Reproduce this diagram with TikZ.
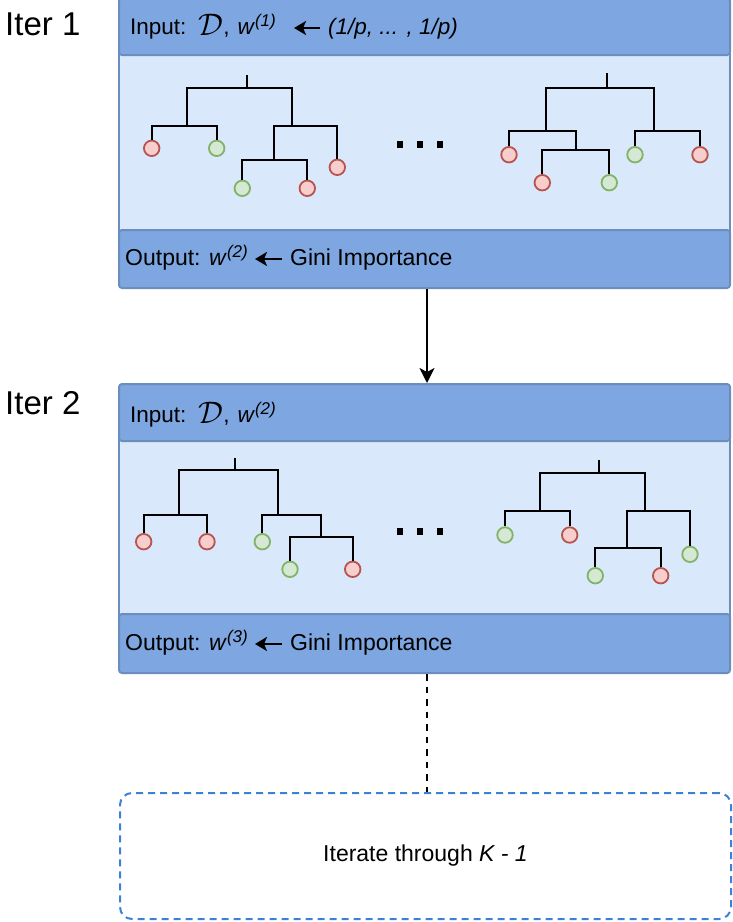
\documentclass[tikz,border=0pt]{standalone}
\usepackage{fontspec}
\usepackage{graphicx}
\setmainfont{Liberation Sans}
\usetikzlibrary{arrows.meta}

\definecolor{hdrfill}{HTML}{7EA6E0}
\definecolor{hdrline}{HTML}{6C8EBF}
\definecolor{bodyfill}{HTML}{DAE8FC}
\definecolor{leafred}{HTML}{F8CECC}
\definecolor{leafredline}{HTML}{B85450}
\definecolor{leafgreen}{HTML}{D5E8D4}
\definecolor{leafgreenline}{HTML}{82B366}
\definecolor{loopline}{HTML}{3B82D6}

\tikzset{
  band/.style={draw=hdrline, fill=hdrfill, line width=2pt, rounded corners=3pt,
    minimum width=611pt, inner sep=0pt, anchor=north west},
  body/.style={draw=hdrline, fill=bodyfill, line width=2pt,
    minimum width=611pt, inner sep=0pt, anchor=north west},
  branch/.style={line width=2.3pt, black},
  leaf/.style={circle, line width=1.8pt, minimum size=15.5pt, inner sep=0pt},
  rleaf/.style={leaf, draw=leafredline, fill=leafred},
  gleaf/.style={leaf, draw=leafgreenline, fill=leafgreen},
  lbl/.style={font=\fontsize{22.5}{26}\selectfont, inner sep=0pt,
    text height=17pt, text depth=5pt, anchor=west},
  outlbl/.style={lbl, font=\fontsize{23}{27}\selectfont},
  iterlbl/.style={font=\fontsize{33}{38}\selectfont, inner sep=0pt, anchor=base west},
  gapdot/.style={rectangle, fill=black, minimum size=6.5pt, inner sep=0pt},
  textarrow/.style={line width=2.4pt, -{Stealth[length=12pt,width=14pt,inset=3pt]},
    shorten <=8pt, shorten >=7pt},
}

% calligraphic data set symbol and iteration superscript
\newcommand{\bigD}{\raisebox{-1pt}{\scalebox{1.5}{$\mathcal{D}$}}}
\newcommand{\itsup}[1]{\raisebox{8pt}{\fontsize{17}{17}\selectfont\textit{(#1)}}}

\begin{document}
\begin{tikzpicture}[x=1pt, y=-1pt]
\useasboundingbox (0,0) rectangle (733,922);

% ---------- iteration 1 ----------
\node[iterlbl] (it1) at (5,35) {Iter 1};
\node[body, minimum height=178pt] (body1) at (118,52) {};
\node[band, minimum height=57pt] (in1) at (118,-3) {};
\node[band, minimum height=58pt] (out1) at (118,229) {};

\node[lbl] (in1a) at (130,28) {Input:\hspace{12pt}\bigD,\hspace{8pt}\textit{w}\itsup{1}};
\node[lbl] (in1b) at (328,28) {\textit{(1/p, ... , 1/p)}};
\draw[textarrow, shorten >=18pt] (in1b.west) -- (in1a.east);

\node[outlbl] (out1a) at (125,259) {Output: \textit{w}\itsup{2}};
\node[outlbl] (out1b) at (290,259) {Gini Importance};
\draw[textarrow] (out1b.west) -- (out1a.east);

% tree A
\coordinate (a0) at (246.7,87.7);
\coordinate (a1) at (186.7,126);
\coordinate (a2) at (291.7,126);
\coordinate (a3) at (274,160);
\node[rleaf] (aL1) at (151.7,148.3) {};
\node[gleaf] (aL2) at (216.7,148.3) {};
\node[gleaf] (aL3) at (242.3,188.3) {};
\node[rleaf] (aL4) at (307.3,188.3) {};
\node[rleaf] (aL5) at (337.3,167.3) {};
\draw[branch] (a0) -- ++(0,-12.5);
\draw[branch] (a1) |- (a0) -| (a2);
\draw[branch] (aL1.north) |- (a1) -| (aL2.north);
\draw[branch] (a3) |- (a2) -| (aL5.north);
\draw[branch] (aL3.north) |- (a3) -| (aL4.north);

% tree B
\coordinate (b0) at (607.3,87.7);
\coordinate (b1) at (546,130.7);
\coordinate (b2) at (654.3,130.7);
\coordinate (b3) at (576,150);
\node[rleaf] (bL1) at (509,154.7) {};
\node[rleaf] (bL2) at (542.3,182.7) {};
\node[gleaf] (bL3) at (609.3,182.7) {};
\node[gleaf] (bL4) at (635,154.7) {};
\node[rleaf] (bL5) at (700,154.7) {};
\draw[branch] (b0) -- ++(0,-14.4);
\draw[branch] (b1) |- (b0) -| (b2);
\draw[branch] (bL1.north) |- (b1) -| (b3);
\draw[branch] (bL2.north) |- (b3) -| (bL3.north);
\draw[branch] (bL4.north) |- (b2) -| (bL5.north);

\node[gapdot] (g1a) at (400,144.3) {};
\node[gapdot] (g1b) at (420,144.3) {};
\node[gapdot] (g1c) at (440,144.3) {};

% ---------- iteration 2 ----------
\node[iterlbl] (it2) at (5,414) {Iter 2};
\node[body, minimum height=176pt] (body2) at (118,438) {};
\node[band, minimum height=57pt] (in2) at (118,383) {};
\node[band, minimum height=59pt] (out2) at (118,613) {};

\node[lbl] (in2a) at (130,416) {Input:\hspace{12pt}\bigD,\hspace{8pt}\textit{w}\itsup{2}};

\node[outlbl] (out2a) at (125,644) {Output: \textit{w}\itsup{3}};
\node[outlbl] (out2b) at (290,644) {Gini Importance};
\draw[textarrow] (out2b.west) -- (out2a.east);

% tree C
\coordinate (c0) at (235,470);
\coordinate (c1) at (179.3,515.3);
\coordinate (c2) at (277.7,515.3);
\coordinate (c3) at (321,536.7);
\node[rleaf] (cL1) at (143.7,541.7) {};
\node[rleaf] (cL2) at (207,541.7) {};
\node[gleaf] (cL3) at (262.3,541.7) {};
\node[gleaf] (cL4) at (290,569.3) {};
\node[rleaf] (cL5) at (352.7,569.3) {};
\draw[branch] (c0) -- ++(0,-12.3);
\draw[branch] (c1) |- (c0) -| (c2);
\draw[branch] (cL1.north) |- (c1) -| (cL2.north);
\draw[branch] (cL3.north) |- (c2) -| (c3);
\draw[branch] (cL4.north) |- (c3) -| (cL5.north);

% tree D
\coordinate (d0) at (599.3,472.7);
\coordinate (d1) at (540.3,511);
\coordinate (d2) at (644.7,511);
\coordinate (d3) at (627,547.7);
\node[gleaf] (dL1) at (505,535) {};
\node[rleaf] (dL2) at (569.7,535) {};
\node[gleaf] (dL3) at (595.3,575.7) {};
\node[rleaf] (dL4) at (660.7,575.7) {};
\node[gleaf] (dL5) at (690,554.3) {};
\draw[branch] (d0) -- ++(0,-12.7);
\draw[branch] (d1) |- (d0) -| (d2);
\draw[branch] (dL1.north) |- (d1) -| (dL2.north);
\draw[branch] (d3) |- (d2) -| (dL5.north);
\draw[branch] (dL3.north) |- (d3) -| (dL4.north);

\node[gapdot] (g2a) at (400,531.5) {};
\node[gapdot] (g2b) at (420,531.5) {};
\node[gapdot] (g2c) at (440,531.5) {};

% ---------- remaining iterations ----------
\node[draw=loopline, dash pattern=on 7pt off 5pt, line width=2pt, rounded corners=12pt,
  minimum width=611pt, minimum height=126pt, inner sep=0pt, anchor=north west,
  font=\fontsize{23}{27}\selectfont] (loop) at (119,792) {Iterate through \textit{K - 1}};

% connectors between iterations
\draw[line width=2pt, -{Stealth[length=15pt,width=15pt,inset=4pt]}]
  ([xshift=2.5pt]out1.south) -- ([xshift=2.5pt]in2.north);
\draw[line width=2.2pt, dash pattern=on 6.5pt off 6pt]
  ([xshift=2.5pt]out2.south) -- ([xshift=2.5pt]out2.south |- loop.north);
\end{tikzpicture}
\end{document}
